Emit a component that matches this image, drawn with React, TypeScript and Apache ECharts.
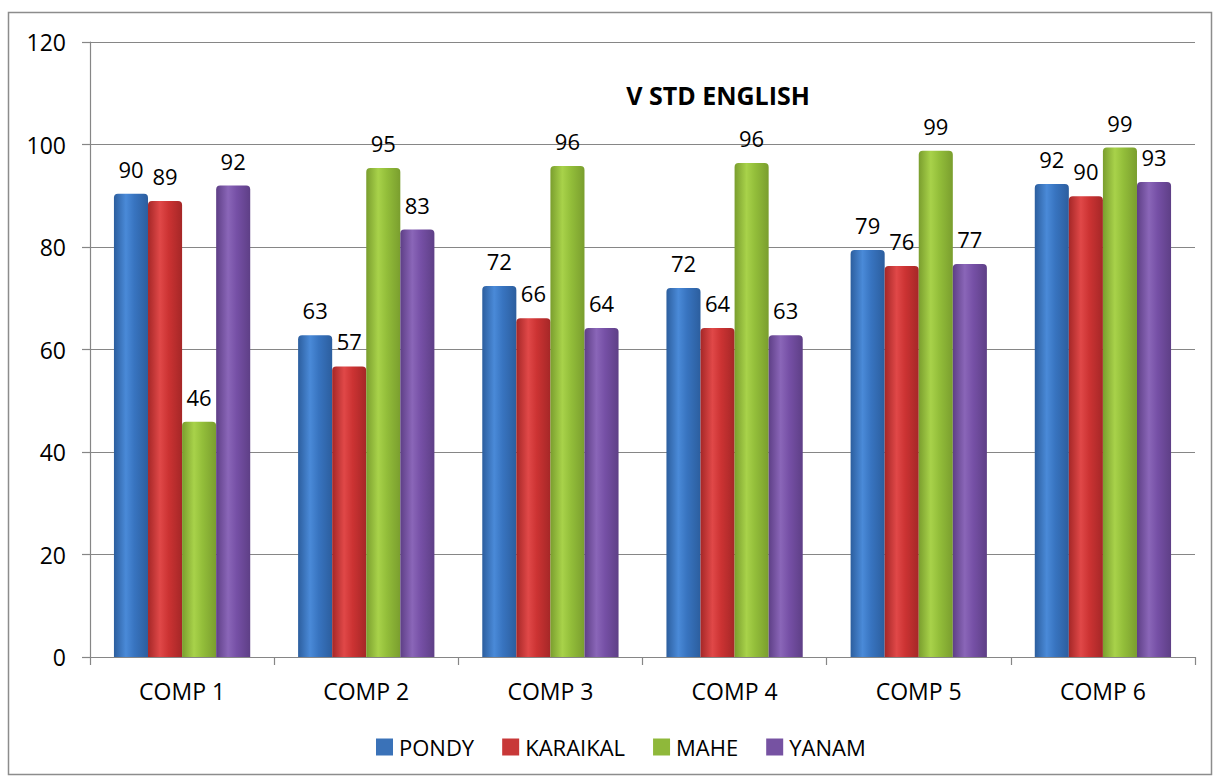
import React, { useEffect, useRef } from "react";
import * as echarts from "echarts";

const categories = ["COMP 1", "COMP 2", "COMP 3", "COMP 4", "COMP 5", "COMP 6"];
const pondy = [90.4, 62.8, 72.4, 72.0, 79.4, 92.3];
const karaikal = [89.0, 56.7, 66.1, 64.2, 76.3, 89.9];
const mahe = [45.9, 95.4, 95.8, 96.4, 98.8, 99.4];
const yanam = [92.0, 83.4, 64.2, 62.8, 76.7, 92.7];
const seriesNames = ["PONDY", "KARAIKAL", "MAHE", "YANAM"];
const titleText = "V STD ENGLISH";

const FONT = "Open Sans";

function grad(edge: string, mid: string, light: string) {
  return new echarts.graphic.LinearGradient(0, 0, 1, 0, [
    { offset: 0, color: edge },
    { offset: 0.35, color: light },
    { offset: 0.6, color: mid },
    { offset: 1, color: edge },
  ]);
}

export default function App() {
  const ref = useRef<HTMLDivElement>(null);
  useEffect(() => {
    if (!ref.current) return;
    const chart = echarts.init(ref.current, undefined, { renderer: "svg" });
    const fills = [
      grad("#2C5E9E", "#3874C0", "#4A8AD8"),
      grad("#A52727", "#CC3333", "#E04848"),
      grad("#7A9E2E", "#93BE3A", "#A8D24A"),
      grad("#5E3F86", "#7650A6", "#8A66B8"),
    ];
    const legendColors = ["#3A72B8", "#C83838", "#8FB83A", "#7652A2"];
    const data = [pondy, karaikal, mahe, yanam];
    chart.setOption({
      animation: false,
      textStyle: { fontFamily: FONT },
      graphic: [
        {
          type: "rect",
          shape: { x: 8.5, y: 12.5, width: 1203, height: 762 },
          style: { fill: "none", stroke: "#8C8C8C", lineWidth: 1.5 },
          silent: true,
        },
        {
          type: "text",
          x: 718,
          y: 95,
          style: {
            text: titleText,
            fontFamily: FONT,
            fontWeight: "bold",
            fontSize: 25,
            fill: "#000",
            align: "center",
            verticalAlign: "middle",
          },
        },
      ],
      grid: { left: 90, right: 24, top: 42, bottom: 123, containLabel: false },
      legend: {
        top: 731,
        left: 371,
        itemWidth: 17,
        itemHeight: 17,
        itemGap: 28,
        icon: "rect",
        textStyle: { fontSize: 22, color: "#000", fontFamily: FONT, padding: [0, 0, 0, 1] },
        data: seriesNames.map((n, i) => ({ name: n, itemStyle: { color: legendColors[i] } })),
      },
      xAxis: {
        type: "category",
        data: categories,
        axisLine: { lineStyle: { color: "#868686", width: 1.2 } },
        axisTick: { show: true, length: 8, lineStyle: { color: "#868686", width: 1.2 } },
        axisLabel: { color: "#000", fontSize: 23, margin: 22, fontFamily: FONT },
      },
      yAxis: {
        type: "value",
        min: 0,
        max: 120,
        interval: 20,
        axisLine: { show: true, lineStyle: { color: "#868686", width: 1.2 } },
        axisTick: { show: true, length: 8, lineStyle: { color: "#868686", width: 1.2 } },
        axisLabel: { color: "#000", fontSize: 23, margin: 24, fontFamily: FONT },
        splitLine: { lineStyle: { color: "#868686", width: 1.2 } },
      },
      series: seriesNames.map((name, i) => ({
        name,
        type: "bar",
        data: data[i],
        barGap: "0%",
        barCategoryGap: "26%",
        itemStyle: { color: fills[i], borderRadius: [4, 4, 0, 0] },
        label: {
          show: true,
          position: "top",
          distance: 14,
          color: "#000",
          fontSize: 22,
          fontFamily: FONT,
          formatter: (p: any) => String(Math.round(p.value)),
        },
      })),
    });
    return () => chart.dispose();
  }, []);
  return (
    <div
      ref={ref}
      style={{ position: "fixed", left: 0, top: 0, width: 1219, height: 780, background: "#fff" }}
    />
  );
}
